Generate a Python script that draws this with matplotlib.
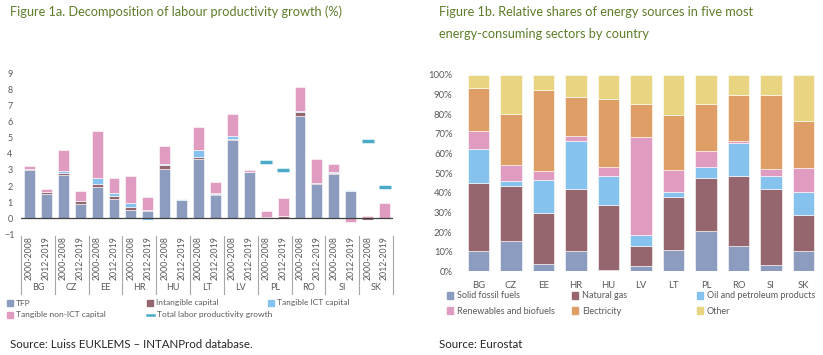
import numpy as np
import matplotlib
matplotlib.use("Agg")
import matplotlib.pyplot as plt
from matplotlib.patches import Patch
from matplotlib.lines import Line2D

# ---------------- data: Figure 1a ----------------
countries_a = ["BG", "CZ", "EE", "HR", "HU", "LT", "LV", "PL", "RO", "SI", "SK"]
periods = ["2000-2008", "2012-2019"]
tfp        = [3.00, 1.51, 2.69, 0.89, 1.96, 1.22, 0.50, 0.43, 3.06, 1.12, 3.68,
              1.45, 4.86, 2.86, 0.00, 0.00, 6.35, 2.11, 2.73, 1.71, 0.00, 0.00]
intangible = [0.05, 0.14, 0.11, 0.20, 0.19, 0.18, 0.18, 0.10, 0.27, 0.03, 0.15,
              0.06, 0.06, 0.02, 0.06, 0.15, 0.23, 0.10, 0.07, 0.00, -0.10, 0.03]
ict        = [0.02, -0.05, 0.12, 0.00, 0.33, 0.15, 0.29, -0.08, 0.06, 0.05, 0.39,
              0.08, 0.21, 0.00, 0.00, 0.00, 0.10, 0.00, 0.08, 0.03, 0.00, 0.00]
nonict     = [0.15, 0.17, 1.32, 0.63, 2.94, 0.93, 1.68, 0.79, 1.10, -0.05, 1.47,
              0.65, 1.33, 0.10, 0.39, 1.13, 1.46, 1.49, 0.49, -0.21, 0.15, 0.94]
total_lp   = [np.nan]*14 + [3.48, 3.00] + [np.nan]*4 + [4.80, 1.93]
series_a_names = ["TFP", "Intangible capital", "Tangible ICT capital",
                  "Tangible non-ICT capital"]
total_name = "Total labor productivity growth"

# ---------------- data: Figure 1b ----------------
countries_b = ["BG", "CZ", "EE", "HR", "HU", "LV", "LT", "PL", "RO", "SI", "SK"]
solid  = [10.4, 15.3, 3.6, 10.4, 0.7, 2.5, 10.9, 20.5, 12.9, 3.4, 10.5]
gas    = [34.4, 28.3, 26.3, 31.4, 33.3, 10.6, 27.0, 26.9, 35.5, 38.4, 18.0]
oil    = [17.3, 2.6, 16.5, 24.6, 14.6, 5.2, 2.7, 5.6, 17.1, 6.6, 11.7]
renew  = [9.4, 7.8, 4.7, 2.4, 4.4, 50.0, 10.8, 8.3, 0.9, 3.6, 12.3]
elec   = [22.0, 26.3, 41.4, 20.2, 34.8, 16.9, 28.4, 23.9, 23.2, 37.6, 24.1]
other  = [6.5, 19.7, 7.5, 11.0, 12.2, 14.8, 20.2, 14.8, 10.4, 10.4, 23.4]
series_b_names = ["Solid fossil fuels", "Natural gas", "Oil and petroleum products",
                  "Renewables and biofuels", "Electricity", "Other"]

# ---------------- style ----------------
C_BLUE = "#8b9cbf"
C_MAUVE = "#96666f"
C_LBLUE = "#85c2ee"
C_PINK = "#df9bc0"
C_ORANGE = "#df9e66"
C_YELLOW = "#e9d482"
C_TEAL = "#4aabc9"
TXT = "#595959"
GREEN = "#5e7d2a"
BODY = ["Lato", "DejaVu Sans"]

W, H = 823, 355
fig = plt.figure(figsize=(W/100, H/100), dpi=100)

def ax_px(x0, y_top, x1, y_bot):
    return fig.add_axes([x0/W, 1 - y_bot/H, (x1-x0)/W, (y_bot-y_top)/H])

def fx(x):
    return x / W

def fy(y):
    return 1 - y / H

# ---------------- Figure 1a ----------------
ax1 = ax_px(21, 73.4, 393, 234.4)
n = len(tfp)
x = np.arange(n)
series_a = [tfp, intangible, ict, nonict]
colors_a = [C_BLUE, C_MAUVE, C_LBLUE, C_PINK]
pos_bot = np.zeros(n)
neg_bot = np.zeros(n)
for vals, col in zip(series_a, colors_a):
    v = np.array(vals, dtype=float)
    p = np.where(v > 0, v, 0)
    m = np.where(v < 0, v, 0)
    ax1.bar(x, p, 0.65, bottom=pos_bot, color=col, edgecolor="white", linewidth=0.4)
    ax1.bar(x, m, 0.65, bottom=neg_bot, color=col, edgecolor="white", linewidth=0.4)
    pos_bot += p
    neg_bot += m
ax1.plot(x, total_lp, linestyle="none", marker="_", markersize=9,
         markeredgewidth=2.5, color=C_TEAL)
ax1.set_xlim(-0.5, n - 0.5)
ax1.set_ylim(-1, 9)
ax1.set_yticks(range(-1, 10))
ax1.tick_params(axis="y", length=0, pad=8, labelsize=6.5, labelcolor=TXT)
for lab in ax1.get_yticklabels():
    lab.set_family(BODY)
    lab.set_horizontalalignment("center")
ax1.set_xticks([])
for s in ax1.spines.values():
    s.set_visible(False)
ax1.axhline(0, color="#404040", linewidth=0.9)

trans = ax1.get_xaxis_transform()
def ay(ypix):
    return (234.4 - ypix) / (234.4 - 73.4)
for i, c in enumerate(countries_a):
    b = 2 * i - 0.5
    ax1.plot([b, b], [ay(236), ay(294)], color="#a6a6a6", lw=0.8,
             transform=trans, clip_on=False)
    for j, pr in enumerate(periods):
        ax1.text(2*i + j, ay(258), pr, rotation=90, ha="center", va="center",
                 fontsize=6.3, color=TXT, family=BODY, transform=trans)
    ax1.text(2*i + 0.5, ay(288), c, ha="center", va="center", fontsize=6.5,
             color=TXT, family=BODY, transform=trans)
b = n - 0.5
ax1.plot([b, b], [ay(236), ay(294)], color="#a6a6a6", lw=0.8,
         transform=trans, clip_on=False)

leg_a = [(series_a_names[0], Patch(color=C_BLUE), 7, 303),
         (series_a_names[1], Patch(color=C_MAUVE), 147, 303),
         (series_a_names[2], Patch(color=C_LBLUE), 268, 303),
         (series_a_names[3], Patch(color=C_PINK), 7, 315),
         (total_name, Line2D([], [], color=C_TEAL, lw=1.8), 147, 315)]
for name, h, lx, ly in leg_a:
    hl = 0.7 if isinstance(h, Patch) else 0.8
    lg = fig.legend([h], [name], loc="center left", bbox_to_anchor=(fx(lx), fy(ly)),
                    frameon=False, handlelength=hl, handleheight=0.7,
                    handletextpad=0.4, borderpad=0, borderaxespad=0,
                    prop={"family": BODY, "size": 6.0})
    for t in lg.get_texts():
        t.set_color(TXT)

# ---------------- Figure 1b ----------------
ax2 = ax_px(462.25, 75, 819.75, 271.3)
m2 = len(countries_b)
xb = np.arange(m2)
series_b = [solid, gas, oil, renew, elec, other]
colors_b = [C_BLUE, C_MAUVE, C_LBLUE, C_PINK, C_ORANGE, C_YELLOW]
bot = np.zeros(m2)
for vals, col in zip(series_b, colors_b):
    v = np.array(vals, dtype=float)
    ax2.bar(xb, v, 0.65, bottom=bot, color=col, edgecolor="white", linewidth=0.4)
    bot += v
ax2.set_xlim(-0.5, m2 - 0.5)
ax2.set_ylim(0, 100)
ax2.set_yticks(range(0, 101, 10))
ax2.set_yticklabels([f"{t}%" for t in range(0, 101, 10)])
ax2.set_xticks(xb)
ax2.set_xticklabels(countries_b)
ax2.tick_params(axis="both", length=0, labelsize=6.8, labelcolor=TXT)
ax2.tick_params(axis="y", pad=7)
ax2.tick_params(axis="x", pad=7)
for lab in ax2.get_yticklabels() + ax2.get_xticklabels():
    lab.set_family(BODY)
for s in ax2.spines.values():
    s.set_visible(False)

leg_b = [(0, 447, 296), (1, 572, 296), (2, 697, 296),
         (3, 447, 311), (4, 572, 311), (5, 697, 311)]
for k, lx, ly in leg_b:
    lg = fig.legend([Patch(color=colors_b[k])], [series_b_names[k]], loc="center left",
                    bbox_to_anchor=(fx(lx), fy(ly)), frameon=False,
                    handlelength=0.7, handleheight=0.7, handletextpad=0.4,
                    borderpad=0, borderaxespad=0, prop={"family": BODY, "size": 6.5})
    for t in lg.get_texts():
        t.set_color(TXT)

# ---------------- titles & sources ----------------
TFONT = dict(ha="left", va="center", fontsize=9.2, color=GREEN, family=BODY)
fig.text(fx(10), fy(12), "Figure 1a. Decomposition of labour productivity growth (%)", **TFONT)
fig.text(fx(439), fy(12), "Figure 1b. Relative shares of energy sources in five most", **TFONT)
fig.text(fx(439), fy(34), "energy-consuming sectors by country", **TFONT)
fig.text(fx(10), fy(344), "Source: Luiss EUKLEMS \u2013 INTANProd database.",
         ha="left", va="center", fontsize=8.3, color="#262626", family=BODY)
fig.text(fx(439), fy(344), "Source: Eurostat",
         ha="left", va="center", fontsize=8.3, color="#262626", family=BODY)

fig.savefig("out.png", dpi=100)
